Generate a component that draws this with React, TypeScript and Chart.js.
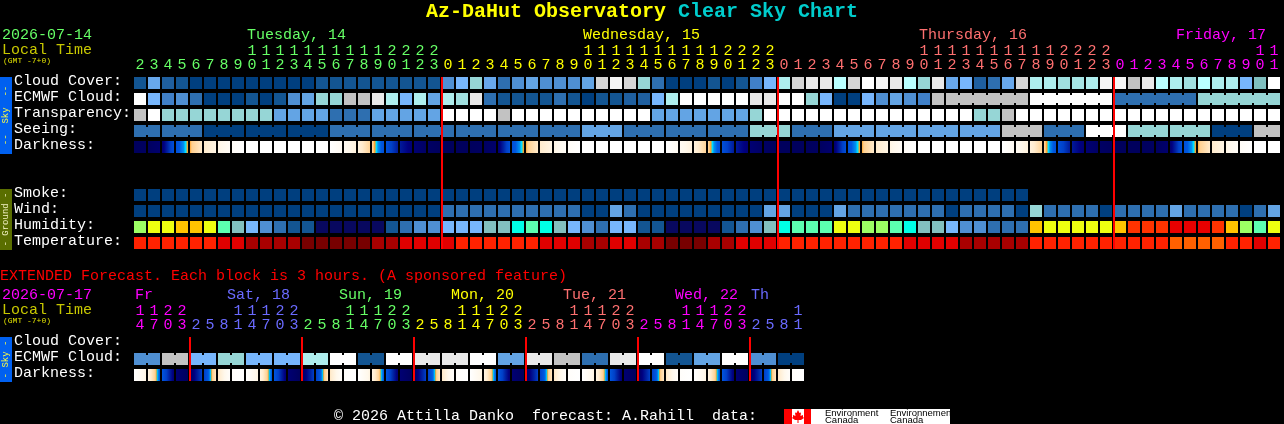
import React, { useEffect, useRef } from "react";
import Chart from "chart.js/auto";

const MONO = '"Liberation Mono", monospace';
const GREEN = "#66ff66", YELLOW = "#ffff00", SALMON = "#ff7070", MAGENTA = "#ff00ff", PERIWINKLE = "#6a6aff";

// ---------- main forecast ----------
const mainHours = [2,3,4,5,6,7,8,9,10,11,12,13,14,15,16,17,18,19,20,21,22,23,0,1,2,3,4,5,6,7,8,9,10,11,12,13,14,15,16,17,18,19,20,21,22,23,0,1,2,3,4,5,6,7,8,9,10,11,12,13,14,15,16,17,18,19,20,21,22,23,0,1,2,3,4,5,6,7,8,9,10,11];
const mainDayStarts = [0, 22, 46, 70];
const mainDayColors = [GREEN, YELLOW, SALMON, MAGENTA];
const mainDayLabels = ["Tuesday, 14", "Wednesday, 15", "Thursday, 16", "Friday, 17"];
const mainDayLabelX = [247, 583, 919, 1176];
const mainRowLabels = ["Cloud Cover:", "ECMWF Cloud:", "Transparency:", "Seeing:", "Darkness:", "", "", "Smoke:", "Wind:", "Humidity:", "Temperature:"];

const cloudCover = [10,45,15,10,0,0,0,0,0,0,0,0,0,10,10,10,10,10,10,10,10,10,30,50,60,45,20,30,40,30,30,30,40,85,95,85,60,20,0,0,0,10,0,10,35,50,70,85,90,90,75,85,100,95,90,75,60,90,45,50,15,20,45,85,70,70,65,68,70,95,95,80,90,75,70,65,75,70,70,50,55,100];
const ecmwfCloud = [100,50,35,30,20,0,0,0,10,0,10,30,40,60,60,80,80,90,70,50,70,40,70,65,90,20,10,10,10,10,20,10,0,10,10,15,15,50,70,100,100,100,100,100,90,90,100,100,60,50,0,0,50,30,40,30,35,80,80,80,80,80,80,80,100,100,100,100,100,100,20,20,20,20,20,20,60,60,60,60,60,60];
const transparency = [80,100,60,60,60,60,60,60,60,60,40,40,40,40,20,20,20,40,40,40,40,40,100,100,100,100,80,100,100,100,100,100,100,100,100,100,100,40,40,40,40,40,40,40,60,100,100,100,100,100,100,100,100,100,100,100,100,100,100,100,60,60,80,100,100,100,100,100,100,100,100,100,100,100,100,100,100,100,100,100,100,100];
const seeing = [20,20,20,20,20,0,0,0,0,0,0,0,0,0,20,20,20,20,20,20,20,20,20,20,20,20,20,20,20,20,20,20,40,40,40,20,20,20,20,20,20,20,20,20,60,60,60,20,20,20,40,40,40,40,40,40,40,40,40,40,40,40,80,80,80,20,20,20,100,100,100,60,60,60,60,60,60,0,0,0,80,80];
const darknessEdges = [6.1,6,5.6,2,0.25,-1.4,-2.6,-4.2,-5,-5,-5,-5,-5,-5,-5,-3.6,-2.2,-0.2,2,4.2,5.4,5.9,6.1,6.1,6.1,6,5.6,2,0.25,-1.4,-2.6,-4.2,-5,-5,-5,-5,-5,-5,-5,-3.6,-2.2,-0.2,2,4.2,5.4,5.9,6.1,6.1,6.1,6,5.6,2,0.25,-1.4,-2.6,-4.2,-5,-5,-5,-5,-5,-5,-5,-3.6,-2.2,-0.2,2,4.2,5.4,5.9,6.1,6.1,6.1,6,5.6,2,0.25,-1.4,-2.6,-4.2,-5,-5,-5];
const smoke = [0,0,0,0,0,0,0,0,0,0,0,0,0,0,0,0,0,0,0,0,0,0,0,0,0,0,0,0,0,0,0,0,0,0,0,0,0,0,0,0,0,0,0,0,0,0,0,0,0,0,0,0,0,0,0,0,0,0,0,0,0,0,0,0];
const wind = [0,0,0,0,0,0,0,0,0,0,0,0,0,0,0,0,0,0,0,0,0,0,20,20,20,20,20,20,20,20,20,20,0,0,40,20,0,0,0,0,0,0,0,0,0,40,40,0,0,0,40,20,20,20,20,20,20,20,0,20,20,20,20,0,60,20,20,20,20,0,20,20,20,20,40,20,20,20,20,0,20,40];
const humidity = [62,67,67,72,72,67,57,47,42,37,32,27,27,22,22,22,22,22,27,32,37,37,42,42,42,47,47,52,57,52,47,42,37,32,42,42,27,27,22,22,22,22,27,32,37,47,52,57,57,57,67,67,62,62,57,52,47,47,42,37,37,32,32,32,72,67,67,67,67,67,72,77,77,77,82,82,82,77,72,62,57,67];
const temperature = [28,28,28,28,28,28,25,25,22,22,22,22,19,19,19,19,19,22,22,25,25,25,25,28,28,28,28,28,28,25,25,25,22,22,25,25,22,22,19,19,19,22,22,25,25,25,28,28,28,28,28,28,28,28,28,25,25,25,25,22,22,22,22,22,28,28,28,28,28,28,28,28,28,28,32,32,32,32,28,28,25,28];
const seeingGroups = [[0,1],[2,4],[5,7],[8,10],[11,13],[14,16],[17,19],[20,22],[23,25],[26,28],[29,31],[32,34],[35,37],[38,40],[41,43],[44,46],[47,49],[50,52],[53,55],[56,58],[59,61],[62,64],[65,67],[68,70],[71,73],[74,76],[77,79],[80,81]];
const ecmwfGroups = [[58,63],[64,69],[70,75],[76,81]];

// ---------- extended forecast ----------
const extHours = [14,17,20,23,2,5,8,11,14,17,20,23,2,5,8,11,14,17,20,23,2,5,8,11,14,17,20,23,2,5,8,11,14,17,20,23,2,5,8,11,14,17,20,23,2,5,8,11];
const extDayStarts = [0, 4, 12, 20, 28, 36, 44];
const extDayColors = [MAGENTA, PERIWINKLE, GREEN, YELLOW, SALMON, MAGENTA, PERIWINKLE];
const extDayLabels = ["Fr", "Sat, 18", "Sun, 19", "Mon, 20", "Tue, 21", "Wed, 22", "Th"];
const extDayLabelX = [135, 227, 339, 451, 563, 675, 751];
const extRowLabels = ["Cloud Cover:", "ECMWF Cloud:", "Darkness:"];
const extEcmwf = [30,30,80,80,50,50,60,60,50,50,50,50,70,70,100,100,10,10,100,100,90,90,90,90,100,100,40,40,90,90,80,80,20,20,90,90,100,100,10,10,40,40,100,100,30,30,0,0];
const extDarknessEdges = [-5,-2.5,1.6,5.4,6.1,3,-1.2,-4.5,-5,-2.5,1.6,5.4,6.1,3,-1.2,-4.5,-5,-2.5,1.6,5.4,6.1,3,-1.2,-4.5,-5,-2.5,1.6,5.4,6.1,3,-1.2,-4.5,-5,-2.5,1.6,5.4,6.1,3,-1.2,-4.5,-5,-2.5,1.6,5.4,6.1,3,-1.2,-4.5,-5];
const extGroups = [[0,1],[2,3],[4,5],[6,7],[8,9],[10,11],[12,13],[14,15],[16,17],[18,19],[20,21],[22,23],[24,25],[26,27],[28,29],[30,31],[32,33],[34,35],[36,37],[38,39],[40,41],[42,43],[44,45],[46,47]];

// ---------- colour keys ----------
const skyKey: Record<number, string> = { 0:"#003f7f",10:"#135592",15:"#1f5f9f",20:"#2e6fb0",30:"#4f8fd2",35:"#4080c8",40:"#63a4e4",45:"#68a8ec",50:"#77b6fc",55:"#7fbfbf",60:"#96d6d6",65:"#a0e0e0",68:"#a6e6e6",70:"#aeeeee",75:"#b9ffff",80:"#c2c2c2",85:"#d5d5d5",90:"#e9e9e9",95:"#f5f5f5",100:"#ffffff" };
const humidityKey: Record<number, string> = { 22:"#08085f",27:"#135592",32:"#2e6fb0",37:"#4f8fd2",42:"#77b6fc",47:"#82bfbf",52:"#00ffe6",57:"#5cffb0",62:"#9cff64",67:"#eeff10",72:"#ffc400",77:"#ff3300",82:"#e80000" };
const temperatureKey: Record<number, string> = { 19:"#780000",22:"#a80000",25:"#e00000",28:"#ff2200",32:"#ff6000" };
const darknessKey: [number, string][] = [[6.2,"#00005a"],[5,"#000080"],[4,"#0020a0"],[3,"#0040c8"],[1.5,"#0058e0"],[0.9,"#0090f0"],[0.6,"#00e0ff"],[0.3,"#ffa020"],[0,"#ffd090"],[-1.5,"#ffeccf"],[-3,"#fff8ec"],[-5,"#ffffff"]];

const hex = (c: string) => [1, 3, 5].map((k) => parseInt(c.slice(k, k + 2), 16));
function darkAt(m: number): string {
  for (let k = 0; k < darknessKey.length - 1; k++) {
    const [a, ca] = darknessKey[k], [b, cb] = darknessKey[k + 1];
    if (m <= a && m >= b) {
      const t = (a - m) / (a - b), x = hex(ca), y = hex(cb);
      return `rgb(${x.map((v, j) => Math.round(v + (y[j] - v) * t)).join(",")})`;
    }
  }
  return m > 6.2 ? "#00005a" : "#ffffff";
}
const HALF_CELL = 6;
function cellRow(row: number, values: (number | null)[], key: Record<number, string>) {
  return {
    data: values.map((v) => (v == null ? null : [row - 0.375, row + 0.375])),
    backgroundColor: (c: any) => key[values[c.dataIndex] as number] ?? "#000",
    barThickness: 12, grouped: false, inflateAmount: 0, borderWidth: 0,
  };
}
function darkRow(row: number, edges: number[]) {
  return {
    data: edges.slice(1).map(() => [row - 0.375, row + 0.375]),
    backgroundColor: (c: any) => {
      const i = c.dataIndex;
      if (i === undefined) return "#000";
      const m0 = edges[i], m1 = edges[i + 1];
      const x = c.chart.scales.x.getPixelForValue(i);
      if (!Number.isFinite(x)) return "#000";
      const g = c.chart.ctx.createLinearGradient(x - HALF_CELL, 0, x + HALF_CELL, 0);
      g.addColorStop(0, darkAt(m0));
      g.addColorStop(1, darkAt(m1));
      if (m0 !== m1) for (const [k, col] of darknessKey) {
        const t = (k - m0) / (m1 - m0);
        if (t > 0 && t < 1) g.addColorStop(t, col);
      }
      return g;
    },
    barThickness: 12, grouped: false, inflateAmount: 0, borderWidth: 0,
  };
}
const tickLabel = (h: number) => (h >= 10 ? [String(Math.floor(h / 10)), String(h % 10)] : [" ", String(h)]);
const dayColorAt = (i: number, starts: number[], colors: string[]) => {
  let c = colors[0];
  starts.forEach((s, k) => { if (i >= s) c = colors[k]; });
  return c;
};
function text(ctx: any, s: string, x: number, y: number, color: string, font: string) {
  ctx.save(); ctx.font = font; ctx.fillStyle = color; ctx.textAlign = "left"; ctx.textBaseline = "middle";
  ctx.fillText(s, x, y); ctx.restore();
}
function tab(ctx: any, top: number, bottom: number, bg: string, fg: string, s: string) {
  ctx.save(); ctx.fillStyle = bg; ctx.fillRect(0, top, 12, bottom - top);
  ctx.translate(6, (top + bottom) / 2); ctx.rotate(-Math.PI / 2);
  ctx.font = `9px ${MONO}`; ctx.fillStyle = fg; ctx.textAlign = "center"; ctx.textBaseline = "middle";
  ctx.fillText(s, 0, 0); ctx.restore();
}
function connectors(chart: any, row: number, groups: number[][], colorOf: (i: number) => string) {
  const { x, y } = chart.scales; const ctx = chart.ctx;
  const y0 = y.getPixelForValue(row - 0.25), y1 = y.getPixelForValue(row + 0.25);
  for (const [a, b] of groups) for (let i = a; i < b; i++) {
    ctx.fillStyle = colorOf(i);
    ctx.fillRect(x.getPixelForValue(i) + HALF_CELL, y0, 2, y1 - y0);
  }
}
function midnightLines(chart: any, cols: number[], top: number, bottom: number) {
  const ctx = chart.ctx; ctx.save(); ctx.fillStyle = "#ff0000";
  cols.forEach((i) => ctx.fillRect(chart.scales.x.getPixelForValue(i) - 7, top, 2, bottom - top));
  ctx.restore();
}
function options(labels: string[], starts: number[], colors: string[], right: number, bottom: number, axisH: number) {
  return {
    animation: false as const, responsive: false, devicePixelRatio: 1, events: [] as string[],
    layout: { padding: { left: 14, right, top: 0, bottom } },
    plugins: { legend: { display: false }, tooltip: { enabled: false }, title: { display: false } },
    scales: {
      x: {
        type: "category" as const, position: "top" as const, offset: true,
        grid: { display: false, drawTicks: false }, border: { display: false },
        afterFit: (s: any) => { s.height = axisH; },
        ticks: {
          autoSkip: false, maxRotation: 0, minRotation: 0, padding: 3,
          color: (c: any) => dayColorAt(c.index, starts, colors),
          font: { family: MONO, size: 15, lineHeight: 14 / 15 },
        },
      },
      y: {
        type: "linear" as const, reverse: true, min: -0.5, max: labels.length - 0.5,
        grid: { display: false, drawTicks: false }, border: { display: false },
        afterFit: (s: any) => { s.width = 119; s.paddingTop = 0; s.paddingBottom = 0; },
        afterBuildTicks: (s: any) => { s.ticks = labels.map((_, i) => ({ value: i })); },
        ticks: {
          autoSkip: false, crossAlign: "far" as const, padding: 0, color: "#ffffff",
          font: { family: MONO, size: 15, lineHeight: "4px" },
          // the blank second line lifts the label 2px above the row centre, as in the reference
          callback: (v: any) => [labels[v] ?? "", ""],
        },
      },
    },
  };
}

export default function App() {
  const topRef = useRef<HTMLCanvasElement>(null);
  const bottomRef = useRef<HTMLCanvasElement>(null);
  useEffect(() => {
    const mainDeco = {
      id: "mainDeco",
      afterDraw(chart: any) {
        const ctx = chart.ctx;
        connectors(chart, 3, seeingGroups, (i) => skyKey[seeing[i]]);
        connectors(chart, 1, ecmwfGroups, (i) => skyKey[ecmwfCloud[i]]);
        midnightLines(chart, mainDayStarts.slice(1), 77, 249);
        text(ctx, "Az-DaHut Observatory", 426, 12, "#ffff00", `bold 20px ${MONO}`);
        text(ctx, "Clear Sky Chart", 678, 12, "#00cccc", `bold 20px ${MONO}`);
        text(ctx, "2026-07-14", 2, 35, GREEN, `15px ${MONO}`);
        text(ctx, "Local Time", 2, 50, "#c8c800", `15px ${MONO}`);
        text(ctx, "(GMT -7+0)", 3, 61, "#e0e000", `8px ${MONO}`);
        mainDayLabels.forEach((s, i) => text(ctx, s, mainDayLabelX[i], 35, mainDayColors[i], `15px ${MONO}`));
        tab(ctx, 77, 154, "#0060f0", "#ffff40", "--  Sky  --");
        tab(ctx, 189, 250, "#5a6e00", "#f0f0c0", "- Ground -");
      },
    };
    const extDeco = {
      id: "extDeco",
      afterDraw(chart: any) {
        const ctx = chart.ctx;
        connectors(chart, 1, extGroups, (i) => skyKey[extEcmwf[i]]);
        midnightLines(chart, extDayStarts.slice(1), 69, 113);
        text(ctx, "EXTENDED Forecast. Each block is 3 hours. (A sponsored feature)", 0, 8, "#ff0000", `15px ${MONO}`);
        text(ctx, "2026-07-17", 2, 27, MAGENTA, `15px ${MONO}`);
        text(ctx, "Local Time", 2, 42, "#c8c800", `15px ${MONO}`);
        text(ctx, "(GMT -7+0)", 3, 53, "#e0e000", `8px ${MONO}`);
        extDayLabels.forEach((s, i) => text(ctx, s, extDayLabelX[i], 27, extDayColors[i], `15px ${MONO}`));
        tab(ctx, 69, 114, "#0060f0", "#ffff40", "- Sky -");
        text(ctx, "\u00a9 2026 Attilla Danko  forecast: A.Rahill  data:", 334, 148, "#ffffff", `15px ${MONO}`);
        // Environment Canada logo
        ctx.save();
        ctx.fillStyle = "#ffffff"; ctx.fillRect(784, 141, 166, 15);
        ctx.fillStyle = "#ff0000"; ctx.fillRect(784, 141, 8, 15); ctx.fillRect(804, 141, 7, 15);
        ctx.beginPath();
        [[798,142],[799.5,145],[801,144.5],[800.5,148],[803,147],[803,149],[804,150],[801,152],[798.5,152],[798.5,155],[797.5,155],[797.5,152],[795,152],[792,150],[793,149],[793,147],[795.5,148],[795,144.5],[796.5,145]].forEach(([a, b], i) => (i ? ctx.lineTo(a, b) : ctx.moveTo(a, b)));
        ctx.closePath(); ctx.fill();
        ctx.restore();
        const sans = '9.5px "Liberation Sans", sans-serif';
        text(ctx, "Environment", 825, 145, "#000000", sans);
        text(ctx, "Canada", 825, 152, "#000000", sans);
        text(ctx, "Environnement", 890, 145, "#000000", sans);
        text(ctx, "Canada", 890, 152, "#000000", sans);
      },
    };
    const top = new Chart(topRef.current!, {
      type: "bar",
      data: {
        labels: mainHours.map(tickLabel) as any,
        datasets: [
          cellRow(0, cloudCover, skyKey), cellRow(1, ecmwfCloud, skyKey), cellRow(2, transparency, skyKey), cellRow(3, seeing, skyKey),
          darkRow(4, darknessEdges),
          cellRow(7, smoke, skyKey), cellRow(8, wind, skyKey), cellRow(9, humidity, humidityKey), cellRow(10, temperature, temperatureKey),
        ] as any,
      },
      options: options(mainRowLabels, mainDayStarts, mainDayColors, 3, 0, 75) as any,
      plugins: [mainDeco],
    });
    const bottom = new Chart(bottomRef.current!, {
      type: "bar",
      data: {
        labels: extHours.map(tickLabel) as any,
        datasets: [cellRow(1, extEcmwf, skyKey), darkRow(2, extDarknessEdges)] as any,
      },
      options: options(extRowLabels, extDayStarts, extDayColors, 479, 41, 67) as any,
      plugins: [extDeco],
    });
    return () => { top.destroy(); bottom.destroy(); };
  }, []);
  return (
    <div style={{ position: "fixed", inset: 0, background: "#000", overflow: "hidden" }}>
      <canvas ref={topRef} width={1284} height={251} style={{ position: "absolute", left: 0, top: 0, display: "block" }} />
      <canvas ref={bottomRef} width={1284} height={156} style={{ position: "absolute", left: 0, top: 268, display: "block" }} />
    </div>
  );
}
